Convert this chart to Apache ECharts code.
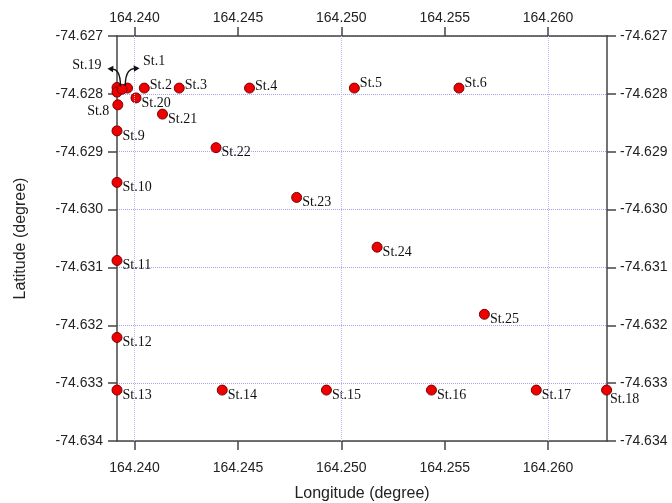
<!DOCTYPE html>
<html>
<head>
<meta charset="utf-8">
<script src="https://cdn.jsdelivr.net/npm/echarts@6/dist/echarts.min.js"></script>
<style>
html,body{margin:0;padding:0;background:#fff;}
#chart{width:672px;height:503px;}
</style>
</head>
<body>
<div id="chart"></div>
<script>
// ---- data ----
const stationNames = ['St.1','St.2','St.3','St.4','St.5','St.6','St.7','','St.8','St.9','St.10','St.11','St.12','St.13',
  'St.14','St.15','St.16','St.17','St.18','St.19','St.20','St.21','St.22','St.23','St.24','St.25'];
const longitudes = [164.23966,164.24047,164.24216,164.24556,164.25063,164.25569,164.23915,164.23915,164.23919,164.23915,
  164.23915,164.23915,164.23915,164.23915,164.24424,164.24928,164.25436,164.25943,164.26283,164.23939,164.24007,
  164.24135,164.24394,164.24784,164.25173,164.25692];
const latitudes = [-74.62790,-74.62790,-74.62790,-74.62790,-74.62790,-74.62790,-74.62789,-74.62797,-74.62819,-74.62864,
  -74.62953,-74.63088,-74.63221,-74.63312,-74.63312,-74.63312,-74.63312,-74.63312,-74.63312,-74.62792,-74.62807,
  -74.62835,-74.62893,-74.62979,-74.63065,-74.63181];
const unlabeled = ['St.7',''];
const lonTicks = [164.240,164.245,164.250,164.255,164.260];
const lonMin = 164.23915, lonMax = 164.26285;
const latMin = -74.634, latMax = -74.627, latStep = 0.001;

// ---- label placement (style only) ----
const labelStyle = {
  'St.1': {position:'right', offset:[9,-27]},
  'St.19': {position:'left', offset:[-14,-24]},
  'St.2': {position:'right', offset:[-1,-3]},
  'St.3': {position:'right', offset:[-1,-3]},
  'St.4': {position:'right', offset:[-1,-2]},
  'St.5': {position:'right', offset:[-1,-5]},
  'St.6': {position:'right', offset:[-1,-5]},
  'St.8': {position:'left', offset:[-2,6]},
  'St.18': {position:'right', offset:[-3,9]}
};
const defaultLabel = {position:'right', offset:[-1,5]};

const points = stationNames.map((n,i)=>{
  const ls = labelStyle[n] || defaultLabel;
  return {name:n, value:[longitudes[i], latitudes[i]],
    label:{show: unlabeled.indexOf(n) < 0, position: ls.position, offset: ls.offset}};
});

const axisFont = {fontFamily:'Liberation Sans, Arial, sans-serif', fontSize:14, color:'#222'};
const axisLineStyle = {show:true, lineStyle:{color:'#444', width:1.5}};
const tickStyle = {show:true, length:9, inside:false, lineStyle:{color:'#444', width:1.5}};
const gridColor = '#a4a4f0';
const gridColorV = '#bcbcf4';
const fmtY = v => v.toFixed(3);

const chart = echarts.init(document.getElementById('chart'), null, {renderer:'canvas'});
const xCommon = {
  type:'value', min:lonMin, max:lonMax,
  axisLine: axisLineStyle,
  axisTick: Object.assign({customValues: lonTicks}, tickStyle),
  splitLine:{show:false}
};
const yCommon = {
  type:'value', min:latMin, max:latMax, interval:latStep,
  axisLine: axisLineStyle,
  axisTick: tickStyle,
  splitLine:{show:false}
};
chart.setOption({
  animation:false,
  grid:{left:117, right:65, top:36, bottom:62, containLabel:false, outerBoundsMode:'none'},
  xAxis:[
    Object.assign({}, xCommon, {position:'bottom', name:'Longitude (degree)', nameLocation:'middle', nameGap:45,
      nameTextStyle:{fontFamily:'Liberation Sans, Arial, sans-serif', fontSize:16, color:'#222'},
      axisLabel: Object.assign({customValues: lonTicks, margin:20, formatter: v => v.toFixed(3)}, axisFont)}),
    Object.assign({}, xCommon, {position:'top',
      axisLabel: Object.assign({customValues: lonTicks, margin:11, formatter: v => v.toFixed(3)}, axisFont)})
  ],
  yAxis:[
    Object.assign({}, yCommon, {position:'left', name:'Latitude (degree)', nameLocation:'middle', nameGap:88,
      nameTextStyle:{fontFamily:'Liberation Sans, Arial, sans-serif', fontSize:16, color:'#222'},
      axisLabel: Object.assign({margin:14, formatter: fmtY}, axisFont),
      splitLine:{show:true, lineStyle:{color:gridColor, type:'dotted', width:1}}}),
    Object.assign({}, yCommon, {position:'right',
      axisLabel: Object.assign({margin:13, formatter: fmtY}, axisFont)})
  ],
  series:[
    {
      type:'line', data:[], silent:true, z:1,
      markLine:{silent:true, symbol:'none', label:{show:false},
        lineStyle:{color:gridColorV, type:'dotted', width:1, opacity:1},
        emphasis:{disabled:true},
        data: lonTicks.map(v=>({xAxis:v}))}
    },
    {
      type:'scatter', z:3, symbol:'circle', symbolSize:10,
      itemStyle:{color:'#ee0000', borderColor:'#7a0000', borderWidth:1, opacity:1},
      label:{show:true, formatter: p => p.name, distance:1,
        fontFamily:'Liberation Serif, Times New Roman, serif', fontSize:14, color:'#111'},
      data: points
    }
  ]
});

// annotation arrows from St.19 and St.1 toward their labels
function arrowGraphics(){
  const idx19 = stationNames.indexOf('St.19');
  const idx1 = stationNames.indexOf('St.1');
  const p19 = chart.convertToPixel({xAxisIndex:0, yAxisIndex:0}, [longitudes[idx19], latitudes[idx19]]);
  const p1 = chart.convertToPixel({xAxisIndex:0, yAxisIndex:0}, [longitudes[idx1], latitudes[idx1]]);
  const st = {stroke:'#111', lineWidth:1.4, fill:null};
  const ex1 = p19[0]-11, ey1 = p19[1]-20;
  const ex2 = p1[0]+8.5, ey2 = p1[1]-19.3;
  return [
    {type:'bezierCurve', z:10, shape:{x1:p19[0]-1.5, y1:p19[1]-3, cpx1:p19[0]-1.5, cpy1:p19[1]-17,
      cpx2:p19[0]-5.7, cpy2:p19[1]-21, x2:ex1, y2:ey1}, style:st},
    {type:'polygon', z:10, shape:{points:[[ex1-3.5,ey1-0.5],[ex1+2.5,ey1-3.5],[ex1+2,ey1+3]]}, style:{fill:'#111'}},
    {type:'bezierCurve', z:10, shape:{x1:p1[0]-2.3, y1:p1[1]-2, cpx1:p1[0]-2.3, cpy1:p1[1]-16.3,
      cpx2:p1[0]+2.7, cpy2:p1[1]-20.3, x2:ex2, y2:ey2}, style:st},
    {type:'polygon', z:10, shape:{points:[[ex2+3.5,ey2-0.5],[ex2-2.5,ey2-3.5],[ex2-2,ey2+3]]}, style:{fill:'#111'}}
  ];
}
chart.setOption({graphic: arrowGraphics()});
</script>
</body>
</html>
